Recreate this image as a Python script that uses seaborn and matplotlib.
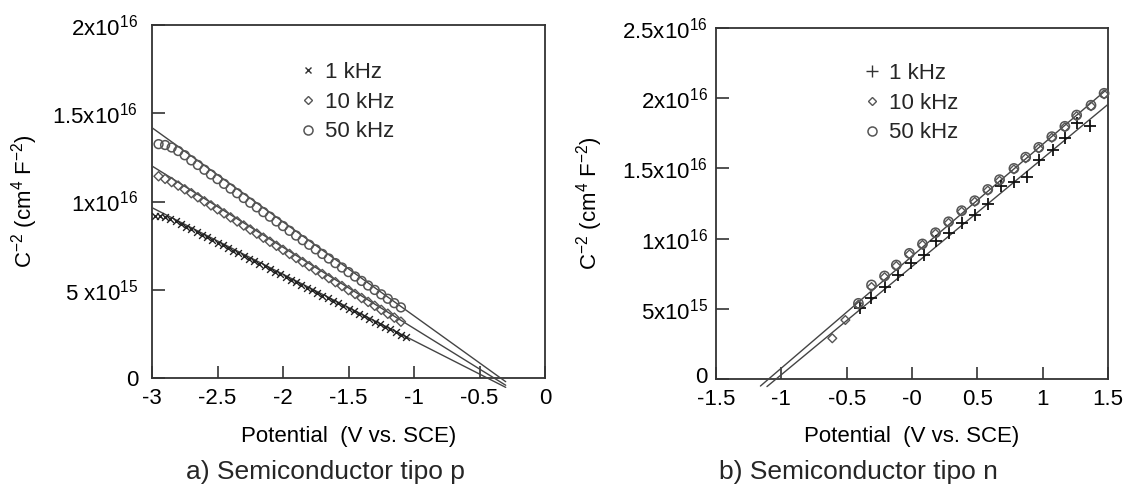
import numpy as np
import matplotlib
matplotlib.use("Agg")
import matplotlib.pyplot as plt
from matplotlib.lines import Line2D
from matplotlib.transforms import ScaledTranslation
import seaborn as sns

sns.set_theme(style="white")
plt.rcParams['font.family'] = ['Liberation Sans', 'DejaVu Sans']
plt.rcParams['mathtext.fontset'] = 'custom'
plt.rcParams['mathtext.rm'] = 'Liberation Sans'
plt.rcParams['mathtext.it'] = 'Liberation Sans'
plt.rcParams['axes.unicode_minus'] = False

E15 = 1e15

# ---------------- panel a) p-type ----------------
a_x_1k = [-2.98, -2.94, -2.90, -2.86, -2.82, -2.78, -2.74, -2.70, -2.66, -2.62,
          -2.58, -2.54, -2.50, -2.46, -2.42, -2.38, -2.34, -2.30, -2.26, -2.22,
          -2.18, -2.14, -2.10, -2.06, -2.02, -1.98, -1.94, -1.90, -1.86, -1.82,
          -1.78, -1.74, -1.70, -1.66, -1.62, -1.58, -1.54, -1.50, -1.46, -1.42,
          -1.38, -1.34, -1.30, -1.26, -1.22, -1.18, -1.14, -1.10, -1.06]
a_y_1k = [9.18, 9.17, 9.12, 9.02, 8.87, 8.72, 8.57, 8.43, 8.27, 8.12,
          7.97, 7.82, 7.67, 7.52, 7.37, 7.22, 7.07, 6.92, 6.77, 6.62,
          6.47, 6.32, 6.17, 6.02, 5.87, 5.72, 5.57, 5.42, 5.27, 5.12,
          4.97, 4.82, 4.67, 4.52, 4.38, 4.23, 4.08, 3.93, 3.78, 3.64,
          3.49, 3.34, 3.19, 3.05, 2.90, 2.75, 2.61, 2.46, 2.32]

a_x_10k = [-2.95, -2.90, -2.85, -2.80, -2.75, -2.70, -2.65, -2.60, -2.55, -2.50,
           -2.45, -2.40, -2.35, -2.30, -2.25, -2.20, -2.15, -2.10, -2.05, -2.00,
           -1.95, -1.90, -1.85, -1.80, -1.75, -1.70, -1.65, -1.60, -1.55, -1.50,
           -1.45, -1.40, -1.35, -1.30, -1.25, -1.20, -1.15, -1.10]
a_y_10k = [11.43, 11.28, 11.10, 10.90, 10.69, 10.47, 10.24, 10.01, 9.78, 9.56,
           9.33, 9.10, 8.87, 8.64, 8.41, 8.18, 7.95, 7.72, 7.49, 7.26,
           7.03, 6.80, 6.57, 6.34, 6.11, 5.89, 5.66, 5.43, 5.21, 4.98,
           4.76, 4.53, 4.31, 4.09, 3.86, 3.64, 3.42, 3.19]

a_x_50k = [-2.95, -2.90, -2.85, -2.80, -2.75, -2.70, -2.65, -2.60, -2.55, -2.50,
           -2.45, -2.40, -2.35, -2.30, -2.25, -2.20, -2.15, -2.10, -2.05, -2.00,
           -1.95, -1.90, -1.85, -1.80, -1.75, -1.70, -1.65, -1.60, -1.55, -1.50,
           -1.45, -1.40, -1.35, -1.30, -1.25, -1.20, -1.15, -1.10]
a_y_50k = [13.25, 13.20, 13.06, 12.86, 12.62, 12.33, 12.07, 11.80, 11.53, 11.27,
           11.00, 10.73, 10.47, 10.20, 9.93, 9.67, 9.40, 9.14, 8.87, 8.61,
           8.34, 8.07, 7.81, 7.55, 7.29, 7.03, 6.77, 6.51, 6.26, 6.00,
           5.75, 5.50, 5.24, 4.99, 4.74, 4.49, 4.24, 4.00]

# fitted lines (end points)
a_fit_1k_x = [-3.0, -0.30]
a_fit_1k_y = [9.65, -0.53]
a_fit_10k_x = [-3.0, -0.30]
a_fit_10k_y = [12.01, -0.41]
a_fit_50k_x = [-3.0, -0.30]
a_fit_50k_y = [14.18, -0.21]

a_xticks = [-3, -2.5, -2, -1.5, -1, -0.5, 0]
a_xticklabels = ['-3', '-2.5', '-2', '-1.5', '-1', '-0.5', '0']
a_yticks = [0, 5, 10, 15, 20]
a_yticklabels = ['0', '5 x10$^{15}$', '1x10$^{16}$', '1.5x10$^{16}$', '2x10$^{16}$']

# ---------------- panel b) n-type ----------------
b_x_1k = [-0.40, -0.31, -0.21, -0.11, -0.01, 0.09, 0.18, 0.28, 0.38, 0.48,
          0.58, 0.68, 0.78, 0.88, 0.97, 1.08, 1.17, 1.26, 1.36]
b_y_1k = [5.03, 5.75, 6.53, 7.41, 8.24, 8.83, 9.85, 10.38, 11.11, 11.68,
          12.46, 13.75, 14.05, 14.36, 15.60, 16.30, 17.20, 18.20, 18.00]

b_x_10k = [-0.61, -0.51, -0.41, -0.31, -0.21, -0.12, -0.02, 0.08, 0.18, 0.28,
           0.38, 0.48, 0.58, 0.67, 0.78, 0.87, 0.97, 1.07, 1.17, 1.26, 1.37, 1.47]
b_y_10k = [2.90, 4.20, 5.30, 6.55, 7.25, 8.05, 8.88, 9.55, 10.35, 11.12,
           11.92, 12.62, 13.42, 14.12, 14.93, 15.72, 16.42, 17.18, 17.93, 18.72, 19.43, 20.28]

b_x_50k = [-0.41, -0.31, -0.21, -0.12, -0.02, 0.08, 0.18, 0.28, 0.38, 0.48,
           0.58, 0.67, 0.78, 0.87, 0.97, 1.07, 1.17, 1.26, 1.37, 1.47]
b_y_50k = [5.39, 6.70, 7.34, 8.12, 8.95, 9.62, 10.42, 11.20, 11.99, 12.70,
           13.50, 14.20, 15.00, 15.80, 16.50, 17.26, 18.00, 18.80, 19.50, 20.35]

b_fit_hi_x = [-1.16, 1.50]
b_fit_hi_y = [-0.50, 20.70]
b_fit_lo_x = [-1.11, 1.50]
b_fit_lo_y = [-0.54, 19.56]

b_xticks = [-1.5, -1, -0.5, 0, 0.5, 1, 1.5]
b_xticklabels = ['-1.5', '-1', '-0.5', '-0', '0.5', '1', '1.5']
b_yticks = [0, 5, 10, 15, 20, 25]
b_yticklabels = ['0', '5x10$^{15}$', '1x10$^{16}$', '1.5x10$^{16}$', '2x10$^{16}$', '2.5x10$^{16}$']

labels = ['1 kHz', '10 kHz', '50 kHz']
ylabel = 'C$^{-2}$ (cm$^{4}$ F$^{-2}$)'
xlabel = 'Potential  (V vs. SCE)'
titles = ['a) Semiconductor tipo p', 'b) Semiconductor tipo n']

FS = 16
W, H = 1135, 497
fig = plt.figure(figsize=(W / 100, H / 100), dpi=100)
axA = fig.add_axes([152 / W, 1 - 378 / H, 393 / W, 353 / H])
axB = fig.add_axes([716 / W, 1 - 379 / H, 392 / W, 351 / H])

line_col = '#444444'
edge_col = '#555555'

def arr(v):
    return np.asarray(v, dtype=float) * E15

# panel a
for fx, fy in [(a_fit_1k_x, a_fit_1k_y), (a_fit_10k_x, a_fit_10k_y), (a_fit_50k_x, a_fit_50k_y)]:
    sns.lineplot(x=fx, y=arr(fy), ax=axA, color=line_col, lw=1.0, clip_on=False, zorder=3)
sns.scatterplot(x=a_x_1k, y=arr(a_y_1k), ax=axA, marker='x', s=24, color='#222222',
                linewidth=1.0, zorder=4, clip_on=False)
sns.scatterplot(x=a_x_10k, y=arr(a_y_10k), ax=axA, marker='D', s=22, facecolor='none',
                edgecolor=edge_col, linewidth=1.0, zorder=4, clip_on=False)
sns.scatterplot(x=a_x_50k, y=arr(a_y_50k), ax=axA, marker='o', s=40, facecolor='none',
                edgecolor=edge_col, linewidth=1.1, zorder=4, clip_on=False)

# panel b
for fx, fy in [(b_fit_hi_x, b_fit_hi_y), (b_fit_lo_x, b_fit_lo_y)]:
    sns.lineplot(x=fx, y=arr(fy), ax=axB, color=line_col, lw=1.0, clip_on=False, zorder=3)
sns.scatterplot(x=b_x_1k, y=arr(b_y_1k), ax=axB, marker='+', s=80, color='#111111',
                linewidth=1.3, zorder=4, clip_on=False)
sns.scatterplot(x=b_x_10k, y=arr(b_y_10k), ax=axB, marker='D', s=20, facecolor='none',
                edgecolor=edge_col, linewidth=1.0, zorder=4, clip_on=False)
sns.scatterplot(x=b_x_50k, y=arr(b_y_50k), ax=axB, marker='o', s=44, facecolor='none',
                edgecolor=edge_col, linewidth=1.1, zorder=4, clip_on=False)

def style(ax, xlim, ylim, xt, xtl, yt, ytl, ylab_x, ypad):
    ax.set_xlim(*xlim)
    ax.set_ylim(ylim[0] * E15, ylim[1] * E15)
    ax.set_xticks(xt)
    ax.set_xticklabels(xtl)
    ax.set_yticks([v * E15 for v in yt])
    ax.set_yticklabels(ytl)
    for sp in ax.spines.values():
        sp.set_visible(True)
        sp.set_color('#333333')
        sp.set_linewidth(1.3)
    ax.tick_params(axis='both', which='major', direction='in', length=9, width=1.2,
                   color='#333333', labelsize=FS, labelcolor='black',
                   bottom=True, left=True, top=False, right=False)
    ax.tick_params(axis='x', pad=7)
    ax.tick_params(axis='y', pad=ypad)
    ax.set_xlabel(xlabel, fontsize=FS, color='black')
    ax.set_ylabel(ylabel, fontsize=FS, color='black')
    ax.xaxis.set_label_coords(0.5, -0.135)
    ax.yaxis.set_label_coords(ylab_x, 0.5)
    ax.grid(False)
    ax.set_facecolor('white')

style(axA, (-3, 0), (0, 20), a_xticks, a_xticklabels, a_yticks, a_yticklabels, -0.285, 10)
style(axB, (-1.5, 1.5), (0, 25), b_xticks, b_xticklabels, b_yticks, b_yticklabels, -0.283, 6)

# nudge the "0" label of panel b slightly upward (sits right above "-1.5")
zero_lbl = axB.get_yticklabels()[0]
zero_lbl.set_transform(zero_lbl.get_transform() + ScaledTranslation(0, 3 / 72, fig.dpi_scale_trans))

def legend(ax, first_marker, first_size, first_lw, bx, by):
    handles = [
        Line2D([], [], ls='none', marker=first_marker, ms=first_size, mew=first_lw,
               color='#333333'),
        Line2D([], [], ls='none', marker='D', ms=4.5, mew=1.0, mfc='none', mec=edge_col),
        Line2D([], [], ls='none', marker='o', ms=6.5, mew=1.1, mfc='none', mec=edge_col),
    ]
    ax.legend(handles, labels, loc='upper left', bbox_to_anchor=(bx, by), frameon=False,
              fontsize=FS, handlelength=1.0, handletextpad=0.27, labelspacing=0.39,
              borderpad=0, borderaxespad=0)

legend(axA, 'x', 4.5, 1.0, 0.368, 0.895)
legend(axB, '+', 8, 1.0, 0.370, 0.900)

fig.text(325 / W, 1 - 472 / H, titles[0], fontsize=19, ha='center', va='center')
fig.text(858 / W, 1 - 472 / H, titles[1], fontsize=19, ha='center', va='center')

fig.savefig('out.png', dpi=100, facecolor='white')
